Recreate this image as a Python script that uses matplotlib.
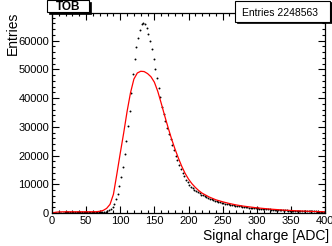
import numpy as np
import matplotlib
matplotlib.use('Agg')
import matplotlib.pyplot as plt
from matplotlib.patches import Rectangle

plt.rcParams['font.family'] = ['Liberation Sans', 'DejaVu Sans']

# data histogram: 160 bins of 2.5 ADC from 0 to 400 (counts per bin)
x_lo, x_hi, n_bins = 0.0, 400.0, 160
data_counts = [
    0, 0, 0, 0, 0, 0, 150, 220,
    250, 260, 270, 280, 280, 290, 290, 290,
    290, 290, 290, 290, 290, 290, 290, 290,
    290, 290, 290, 290, 300, 300, 310, 380,
    600, 900, 1300, 2000, 3100, 4700, 6600, 9300,
    12500, 16000, 20400, 25200, 30100, 35600, 41600, 48300,
    53600, 57600, 61000, 63800, 65800, 66100, 65600, 64200,
    62100, 59800, 57100, 53700, 50100, 46800, 43500, 40200,
    37000, 34300, 32000, 29700, 27600, 25600, 23700, 21800,
    20000, 18300, 16700, 15200, 13900, 12700, 11600, 10700,
    9900, 9200, 8600, 8100, 7600, 7200, 6800, 6400,
    6100, 5800, 5500, 5200, 5000, 4750, 4500, 4300,
    4100, 3900, 3750, 3600, 3450, 3300, 3150, 3000,
    2900, 2800, 2680, 2570, 2470, 2380, 2290, 2200,
    2120, 2040, 1960, 1890, 1820, 1750, 1690, 1630,
    1570, 1510, 1460, 1410, 1360, 1310, 1270, 1230,
    1190, 1150, 1110, 1070, 1040, 1000, 970, 940,
    910, 880, 850, 830, 800, 780, 750, 730,
    710, 690, 670, 650, 630, 610, 600, 580,
    560, 550, 530, 520, 500, 490, 480, 460,
]

# simulation curve (red)
sim_x = [0, 5, 10, 20, 30, 40, 50, 60, 65, 70, 75, 80, 85, 90, 95, 100,
         105, 110, 115, 120, 125, 130, 135, 140, 145, 150, 155, 160, 165,
         170, 175, 180, 185, 190, 195, 200, 205, 210, 215, 220, 230, 240,
         250, 260, 270, 280, 290, 300, 320, 340, 360, 380, 400]
sim_y = [0, 250, 380, 420, 420, 420, 420, 430, 450, 600, 900, 1600, 3000,
         6500, 13500, 20800, 27800, 35300, 41800, 46600, 48700, 49300,
         49200, 48500, 47400, 45500, 42300, 38200, 33900, 29800, 25900,
         22400, 19200, 16300, 13800, 11800, 10200, 8900, 7800, 6900, 5600,
         4600, 3900, 3300, 2800, 2400, 2100, 1800, 1350, 1000, 750, 560, 420]

title = 'TOB'
n_entries = 2248563

W, H = 332, 246
fig = plt.figure(figsize=(W / 100, H / 100), dpi=100)
ax = fig.add_axes([52 / W, (H - 213) / H, 273 / W, 199.5 / H])

edges = np.linspace(x_lo, x_hi, n_bins + 1)
centers = 0.5 * (edges[:-1] + edges[1:])
ax.plot(centers, data_counts, 'o', color='black', markersize=1.4, markeredgewidth=0)
ax.plot(sim_x, sim_y, '-', color='red', lw=0.9)

ax.set_xlim(x_lo, x_hi)
ax.set_ylim(0, 69400)
ax.set_xticks(np.arange(0, 401, 50))
ax.set_xticks(np.arange(0, 401, 10), minor=True)
ax.set_yticks(np.arange(0, 60001, 10000))
ax.set_yticks(np.arange(0, 69400, 2000), minor=True)
ax.tick_params(which='both', direction='in', top=True, right=True,
               labelsize=8, pad=2, width=0.8)
ax.tick_params(which='major', length=5)
ax.tick_params(which='minor', length=2.5)
for s in ax.spines.values():
    s.set_linewidth(0.9)

fig.text(329 / W, 1 - 240 / H, 'Signal charge [ADC]', ha='right',
         va='baseline', fontsize=10)
fig.text(13 / W, 1 - 12 / H, 'Entries', rotation=90, ha='center',
         va='top', fontsize=10)


def box(x0, y0, x1, y1):
    # pixel box with a ROOT style shadow on the bottom and right
    fig.patches.append(Rectangle((x0 / W + 1.5 / W, 1 - (y1 + 1.5) / H),
                                 (x1 - x0) / W, (y1 - y0) / H,
                                 transform=fig.transFigure, facecolor='black',
                                 edgecolor='black', lw=0.5, zorder=5))
    fig.patches.append(Rectangle((x0 / W, 1 - y1 / H), (x1 - x0) / W,
                                 (y1 - y0) / H, transform=fig.transFigure,
                                 facecolor='white', edgecolor='black',
                                 lw=0.8, zorder=6))


box(47, 0.5, 89, 12)
fig.text(68 / W, 1 - 6.5 / H, title, ha='center', va='center',
         fontsize=8.5, fontweight='bold', zorder=7)
box(235, 0.5, 330, 21.5)
fig.text(280 / W, 1 - 12.5 / H, f'Entries {n_entries}', ha='center',
         va='center', fontsize=7.5, zorder=7)

fig.savefig('out.png', dpi=100)
